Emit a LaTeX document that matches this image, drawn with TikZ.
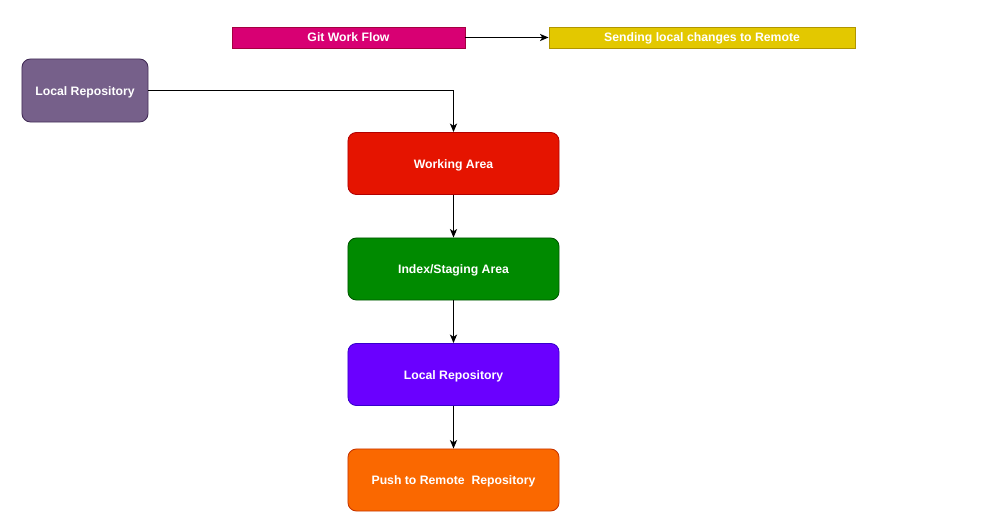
\documentclass[tikz,border=0pt]{standalone}
\usepackage{fontspec}
\setmainfont{Liberation Sans}
\usetikzlibrary{arrows.meta}
\definecolor{flowpink}{HTML}{D80073}
\definecolor{flowpinkb}{HTML}{A50040}
\definecolor{flowyellow}{HTML}{E3C800}
\definecolor{flowyellowb}{HTML}{B09500}
\definecolor{repopurple}{HTML}{76608A}
\definecolor{repopurpleb}{HTML}{432D57}
\definecolor{workred}{HTML}{E51400}
\definecolor{workredb}{HTML}{B20000}
\definecolor{indexgreen}{HTML}{008A00}
\definecolor{indexgreenb}{HTML}{005700}
\definecolor{localviolet}{HTML}{6A00FF}
\definecolor{localvioletb}{HTML}{3700CC}
\definecolor{pushorange}{HTML}{FA6800}
\definecolor{pushorangeb}{HTML}{C73500}
\tikzset{
  banner/.style={draw=#1, line width=0.6pt, minimum height=0.525cm, inner sep=0pt,
    text height=6.5pt, text depth=1pt,
    text=white, font=\fontsize{8.7}{10}\selectfont\bfseries},
  stage/.style={draw=#1, line width=0.6pt, rounded corners=6pt, minimum width=5.275cm,
    minimum height=1.55cm, inner sep=0pt, text height=6.5pt, text depth=0pt,
    text=white, font=\fontsize{8.7}{10}\selectfont\bfseries},
  flow/.style={->, line width=1.1pt}
}

\begin{document}
\begin{tikzpicture}[x=0.025cm,y=-0.025cm,>={Stealth[length=6pt,width=5pt,inset=1.5pt]}]
\useasboundingbox (0,0) rectangle (993,530);
% Title banners
\node[banner=flowpinkb, fill=flowpink, minimum width=5.825cm] (gitflow) at (348.5,37.5) {Git Work Flow};
\node[banner=flowyellowb, fill=flowyellow, minimum width=7.65cm] (sending) at (702,37.5) {Sending local changes to Remote};
\draw[flow] (gitflow) -- (sending);
% Local repository on the left
\node[stage=repopurpleb, fill=repopurple, minimum width=3.15cm, minimum height=1.575cm] (localleft) at (85,90.5) {Local Repository};
% Stages
\node[stage=workredb, fill=workred] (working) at (453.5,163.5) {Working Area};
\node[stage=indexgreenb, fill=indexgreen] (index) at (453.5,269) {Index/Staging Area};
\node[stage=localvioletb, fill=localviolet] (localrepo) at (453.5,374.5) {Local Repository};
\node[stage=pushorangeb, fill=pushorange] (push) at (453.5,480) {Push to Remote\ \ Repository};
% Connectors
\draw[flow] (localleft.east) -| (working.north);
\draw[flow] (working) -- (index);
\draw[flow] (index) -- (localrepo);
\draw[flow] (localrepo) -- (push);
\end{tikzpicture}
\end{document}
